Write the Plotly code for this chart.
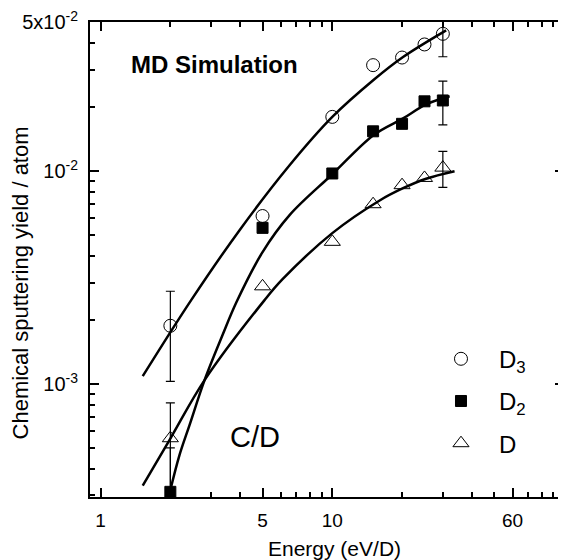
import plotly.graph_objects as go
import math

# ---- data ----
energy = [2, 5, 10, 15, 20, 25, 30]
y_D3 = [1.88e-3, 6.16e-3, 1.80e-2, 3.15e-2, 3.42e-2, 3.94e-2, 4.42e-2]
y_D2 = [3.12e-4, 5.42e-3, 9.76e-3, 1.54e-2, 1.67e-2, 2.13e-2, 2.15e-2]
y_D = [5.57e-4, 2.88e-3, 4.66e-3, 7.0e-3, 8.6e-3, 9.3e-3, 1.04e-2]

err_D3 = [0.85e-3, None, None, None, None, None, 0.97e-2]
err_D2 = [1.9e-4, None, None, None, None, None, 0.5e-2]
err_D = [2.6e-4, None, None, None, None, None, 0.2e-2]

fit_D3_E = [1.52, 2.46, 4.0, 6.54, 10.0, 15.1, 20.2, 31.0]
fit_D3_Y = [1.09e-3, 2.48e-3, 5.33e-3, 1.067e-2, 1.80e-2, 2.69e-2, 3.44e-2, 4.59e-2]
fit_D2_E = [2.0, 2.19, 2.42, 2.81, 3.36, 3.86, 5.0, 6.54, 10.0, 15.1, 20.2, 25.4, 32.1]
fit_D2_Y = [3.18e-4, 4.64e-4, 6.42e-4, 1.044e-3, 1.70e-3, 2.43e-3, 4.17e-3, 6.22e-3,
            9.68e-3, 1.48e-2, 1.77e-2, 2.06e-2, 2.25e-2]
fit_D_E = [1.52, 2.0, 2.81, 5.1, 6.1, 10.0, 15.95, 20.2, 25.4, 33.7]
fit_D_Y = [3.34e-4, 5.55e-4, 1.044e-3, 2.48e-3, 3.11e-3, 5.12e-3, 7.27e-3, 8.32e-3,
           9.22e-3, 1.0e-2]

x_tickvals = [1, 5, 10, 60]
x_ticktext = ["1", "5", "10", "60"]
x_minor = [2, 3, 4, 6, 7, 8, 9, 20, 30, 40, 50, 70, 80, 90]
y_tickvals = [1e-3, 1e-2, 5e-2]
y_ticktext = ["10<sup>-3</sup>", "10<sup>-2</sup>", "5x10<sup>-2</sup>"]
y_minor = [3e-4, 4e-4, 5e-4, 6e-4, 7e-4, 8e-4, 9e-4,
           2e-3, 3e-3, 4e-3, 5e-3, 6e-3, 7e-3, 8e-3, 9e-3,
           2e-2, 3e-2, 4e-2]

series = [
    ("D<sub>3</sub>", y_D3, err_D3, fit_D3_E, fit_D3_Y, "circle-open", 13),
    ("D<sub>2</sub>", y_D2, err_D2, fit_D2_E, fit_D2_Y, "square", 11),
    ("D", y_D, err_D, fit_D_E, fit_D_Y, "triangle-up-open", 14),
]

FONT = "Liberation Sans, Arial, sans-serif"
fig = go.Figure()

for name, ys, errs, fe, fy, sym, sz in series:
    fig.add_trace(go.Scatter(x=fe, y=fy, mode="lines", line=dict(color="black", width=2.5, shape="spline"),
                             showlegend=False, hoverinfo="skip"))

for name, ys, errs, fe, fy, sym, sz in series:
    idx = [i for i, e in enumerate(errs) if e is not None]
    fig.add_trace(go.Scatter(x=[energy[i] for i in idx], y=[ys[i] for i in idx], mode="markers",
                             marker=dict(size=1, opacity=0),
                             error_y=dict(type="data", array=[errs[i] for i in idx], symmetric=True,
                                          color="black", thickness=1.2, width=4.5),
                             showlegend=False, hoverinfo="skip"))

for k, (name, ys, errs, fe, fy, sym, sz) in enumerate(series):
    fig.add_trace(go.Scatter(x=energy, y=ys, mode="markers", name=name, legendgroup=str(k),
                             marker=dict(symbol=sym, size=sz, color="black", line=dict(color="black", width=1))))

fig.update_xaxes(type="log", range=[math.log10(0.9), 2.0], automargin=False,
                 tickmode="array", tickvals=x_tickvals, ticktext=x_ticktext,
                 ticks="inside", ticklen=9, tickwidth=1.5, tickcolor="black",
                 showline=True, linewidth=2, linecolor="black", mirror="ticks",
                 showgrid=False, zeroline=False,
                 minor=dict(tickmode="array", tickvals=x_minor, ticks="inside", ticklen=5,
                            tickwidth=1.5, tickcolor="black", showgrid=False),
                 tickfont=dict(family=FONT, size=19, color="black"), ticklabelstandoff=5)
fig.update_yaxes(type="log", range=[math.log10(2.95e-4), math.log10(5e-2) + 0.002], automargin=False,
                 tickmode="array", tickvals=y_tickvals, ticktext=y_ticktext,
                 ticks="inside", ticklen=9, tickwidth=1.5, tickcolor="black",
                 showline=True, linewidth=2, linecolor="black", mirror="ticks",
                 showgrid=False, zeroline=False,
                 minor=dict(tickmode="array", tickvals=y_minor, ticks="inside", ticklen=5,
                            tickwidth=1.5, tickcolor="black", showgrid=False),
                 tickfont=dict(family=FONT, size=20, color="black"), ticklabelstandoff=6)

# axis titles
fig.add_annotation(text="Energy (eV/D)", xref="paper", yref="paper", x=0.5158, y=-0.1074,
                   xanchor="center", yanchor="middle", showarrow=False,
                   font=dict(family=FONT, size=21, color="black"))
fig.add_annotation(text="Chemical sputtering yield / atom", xref="paper", yref="paper",
                   x=-0.1477, y=0.4516, textangle=-90,
                   xanchor="center", yanchor="middle", showarrow=False,
                   font=dict(family=FONT, size=22, color="black"))

fig.add_annotation(text="<b>MD Simulation</b>", xref="paper", yref="paper", x=0.0823, y=0.9105,
                   xanchor="left", yanchor="middle", showarrow=False,
                   font=dict(family=FONT, size=24, color="black"))
fig.add_annotation(text="C/D", xref="paper", yref="paper", x=0.349, y=0.1263,
                   xanchor="center", yanchor="middle", showarrow=False,
                   font=dict(family=FONT, size=29, color="black"))

# page body has an 8px margin: figure is 558x552 so the plot area lands at x 90-564, y 22-497
fig.update_layout(width=558, height=552, autosize=False,
                  margin=dict(l=82, r=2, t=14, b=63),
                  plot_bgcolor="white", paper_bgcolor="white",
                  hovermode=False,
                  legend=dict(x=0.7025, y=0.3375, xanchor="left", yanchor="top",
                              bgcolor="rgba(0,0,0,0)", itemwidth=66, tracegroupgap=8,
                              font=dict(family=FONT, size=24, color="black")))

fig.write_html("out.html")
